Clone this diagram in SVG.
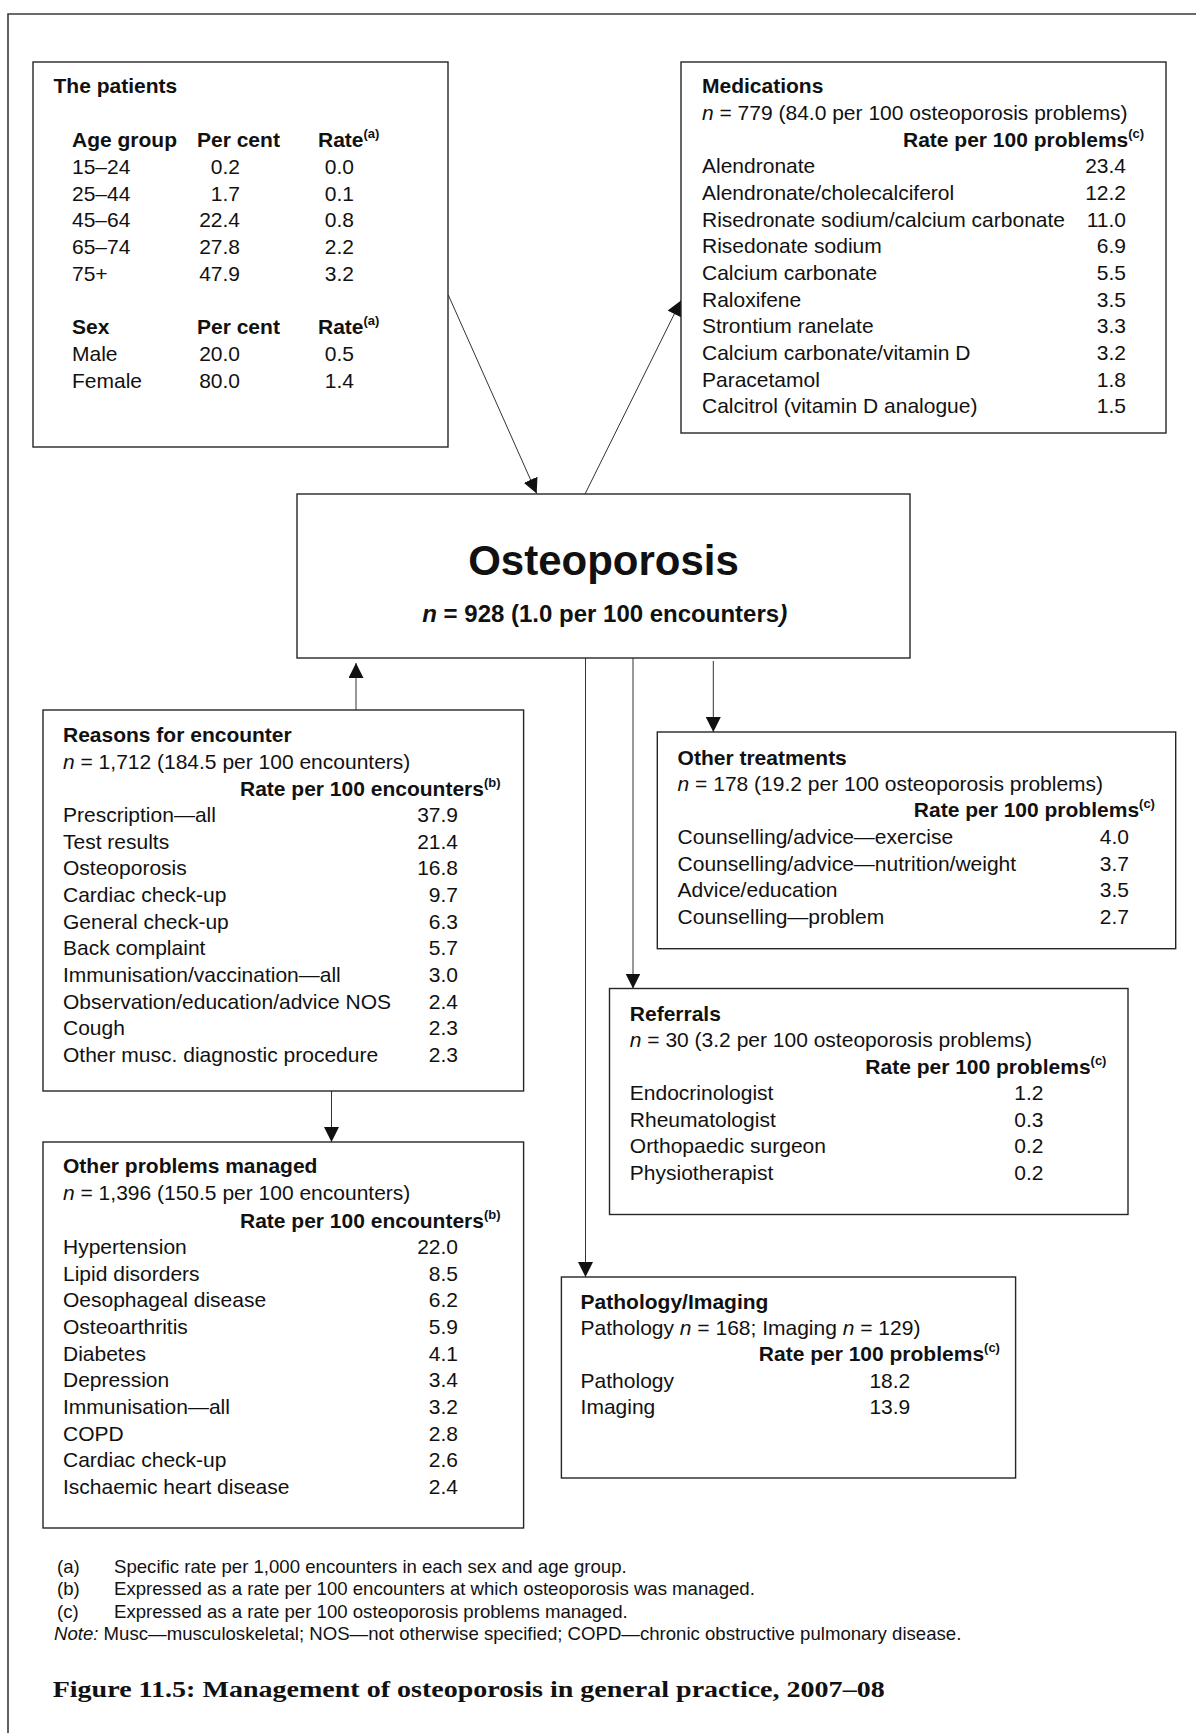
<svg xmlns="http://www.w3.org/2000/svg" width="1196" height="1733" viewBox="0 0 1196 1733">
<style>
.t{font-family:"Liberation Sans",Arial,sans-serif;font-size:21px;fill:#111}
.b{font-weight:bold}
.i{font-style:italic}
.r{text-anchor:end}
.sup{font-size:13px;font-weight:bold}
.box{fill:#fff;stroke:#262626;stroke-width:1.4}
.conn{stroke:#333;stroke-width:1;fill:none}
.big{font-size:42px;text-anchor:middle}
.sub{font-size:24px;text-anchor:middle}
.fn{font-family:"Liberation Sans",Arial,sans-serif;font-size:18.6px;fill:#111}
.cap{font-family:"Liberation Serif","Times New Roman",serif;font-size:23px;font-weight:bold;fill:#111}
</style>
<defs>
<marker id="ah" viewBox="0 0 15 15" refX="15" refY="7.5" markerWidth="15" markerHeight="15" markerUnits="userSpaceOnUse" orient="auto">
<path d="M0,0 L15,7.5 L0,15 z" fill="#111"/>
</marker>
</defs>
<rect width="1196" height="1733" fill="#fff"/>
<path d="M8,1733 L8,14 L1196,14" fill="none" stroke="#3a3a3a" stroke-width="1.6"/>

<g id="connectors">
<line class="conn" x1="448.3" y1="295" x2="536.7" y2="493.5" marker-end="url(#ah)"/>
<line class="conn" x1="585" y1="494" x2="681" y2="300.5" marker-end="url(#ah)"/>
<line class="conn" x1="356" y1="710" x2="356" y2="663" marker-end="url(#ah)"/>
<line class="conn" x1="331.5" y1="1091" x2="331.5" y2="1142" marker-end="url(#ah)"/>
<line class="conn" x1="713.3" y1="661" x2="713.3" y2="732" marker-end="url(#ah)"/>
<line class="conn" x1="633" y1="658" x2="633" y2="988.5" marker-end="url(#ah)"/>
<line class="conn" x1="585.5" y1="658" x2="585.5" y2="1277" marker-end="url(#ah)"/>
</g>

<g id="patients">
<rect class="box" x="33" y="62" width="415" height="385"/>
<text class="t b" x="53.5" y="93">The patients</text>
<text class="t b" x="72" y="147">Age group</text>
<text class="t b" x="197" y="147">Per cent</text>
<text class="t b" x="318" y="147">Rate<tspan class="sup" dy="-9">(a)</tspan></text>
<text class="t" x="72" y="174">15–24</text><text class="t r" x="240" y="174">0.2</text><text class="t r" x="354" y="174">0.0</text>
<text class="t" x="72" y="200.7">25–44</text><text class="t r" x="240" y="200.7">1.7</text><text class="t r" x="354" y="200.7">0.1</text>
<text class="t" x="72" y="227.4">45–64</text><text class="t r" x="240" y="227.4">22.4</text><text class="t r" x="354" y="227.4">0.8</text>
<text class="t" x="72" y="254">65–74</text><text class="t r" x="240" y="254">27.8</text><text class="t r" x="354" y="254">2.2</text>
<text class="t" x="72" y="280.8">75+</text><text class="t r" x="240" y="280.8">47.9</text><text class="t r" x="354" y="280.8">3.2</text>
<text class="t b" x="72" y="334">Sex</text>
<text class="t b" x="197" y="334">Per cent</text>
<text class="t b" x="318" y="334">Rate<tspan class="sup" dy="-9">(a)</tspan></text>
<text class="t" x="72" y="361">Male</text><text class="t r" x="240" y="361">20.0</text><text class="t r" x="354" y="361">0.5</text>
<text class="t" x="72" y="387.7">Female</text><text class="t r" x="240" y="387.7">80.0</text><text class="t r" x="354" y="387.7">1.4</text>
</g>

<g id="medications">
<rect class="box" x="681" y="62" width="485" height="371"/>
<text class="t b" x="702" y="93">Medications</text>
<text class="t" x="702" y="120"><tspan class="i">n</tspan> = 779 (84.0 per 100 osteoporosis problems)</text>
<text class="t b" x="903" y="147">Rate per 100 problems<tspan class="sup" dy="-9">(c)</tspan></text>
<text class="t" x="702" y="173.4">Alendronate</text><text class="t r" x="1126" y="173.4">23.4</text>
<text class="t" x="702" y="200">Alendronate/cholecalciferol</text><text class="t r" x="1126" y="200">12.2</text>
<text class="t" x="702" y="226.7">Risedronate sodium/calcium carbonate</text><text class="t r" x="1126" y="226.7">11.0</text>
<text class="t" x="702" y="253.4">Risedonate sodium</text><text class="t r" x="1126" y="253.4">6.9</text>
<text class="t" x="702" y="280">Calcium carbonate</text><text class="t r" x="1126" y="280">5.5</text>
<text class="t" x="702" y="306.7">Raloxifene</text><text class="t r" x="1126" y="306.7">3.5</text>
<text class="t" x="702" y="333.4">Strontium ranelate</text><text class="t r" x="1126" y="333.4">3.3</text>
<text class="t" x="702" y="360">Calcium carbonate/vitamin D</text><text class="t r" x="1126" y="360">3.2</text>
<text class="t" x="702" y="386.7">Paracetamol</text><text class="t r" x="1126" y="386.7">1.8</text>
<text class="t" x="702" y="413.4">Calcitrol (vitamin D analogue)</text><text class="t r" x="1126" y="413.4">1.5</text>
</g>

<g id="osteoporosis">
<rect class="box" x="297" y="494" width="613" height="164"/>
<text class="t b big" x="603.5" y="575">Osteoporosis</text>
<text class="t b sub" x="604.7" y="622"><tspan class="i">n</tspan> = 928 (1.0 per 100 encounters<tspan class="i">)</tspan></text>
</g>

<g id="reasons">
<rect class="box" x="43" y="710" width="480.6" height="381"/>
<text class="t b" x="63" y="742">Reasons for encounter</text>
<text class="t" x="63" y="769"><tspan class="i">n</tspan> = 1,712 (184.5 per 100 encounters)</text>
<text class="t b" x="240" y="796">Rate per 100 encounters<tspan class="sup" dy="-9">(b)</tspan></text>
<text class="t" x="63" y="822">Prescription—all</text><text class="t r" x="458" y="822">37.9</text>
<text class="t" x="63" y="848.7">Test results</text><text class="t r" x="458" y="848.7">21.4</text>
<text class="t" x="63" y="875.3">Osteoporosis</text><text class="t r" x="458" y="875.3">16.8</text>
<text class="t" x="63" y="902">Cardiac check-up</text><text class="t r" x="458" y="902">9.7</text>
<text class="t" x="63" y="928.7">General check-up</text><text class="t r" x="458" y="928.7">6.3</text>
<text class="t" x="63" y="955.3">Back complaint</text><text class="t r" x="458" y="955.3">5.7</text>
<text class="t" x="63" y="982">Immunisation/vaccination—all</text><text class="t r" x="458" y="982">3.0</text>
<text class="t" x="63" y="1008.7">Observation/education/advice NOS</text><text class="t r" x="458" y="1008.7">2.4</text>
<text class="t" x="63" y="1035.3">Cough</text><text class="t r" x="458" y="1035.3">2.3</text>
<text class="t" x="63" y="1062">Other musc. diagnostic procedure</text><text class="t r" x="458" y="1062">2.3</text>
</g>

<g id="other-problems">
<rect class="box" x="43" y="1142" width="480.6" height="386"/>
<text class="t b" x="63" y="1173">Other problems managed</text>
<text class="t" x="63" y="1200"><tspan class="i">n</tspan> = 1,396 (150.5 per 100 encounters)</text>
<text class="t b" x="240" y="1227.5">Rate per 100 encounters<tspan class="sup" dy="-9">(b)</tspan></text>
<text class="t" x="63" y="1254">Hypertension</text><text class="t r" x="458" y="1254">22.0</text>
<text class="t" x="63" y="1280.7">Lipid disorders</text><text class="t r" x="458" y="1280.7">8.5</text>
<text class="t" x="63" y="1307.3">Oesophageal disease</text><text class="t r" x="458" y="1307.3">6.2</text>
<text class="t" x="63" y="1334">Osteoarthritis</text><text class="t r" x="458" y="1334">5.9</text>
<text class="t" x="63" y="1360.7">Diabetes</text><text class="t r" x="458" y="1360.7">4.1</text>
<text class="t" x="63" y="1387.3">Depression</text><text class="t r" x="458" y="1387.3">3.4</text>
<text class="t" x="63" y="1414">Immunisation—all</text><text class="t r" x="458" y="1414">3.2</text>
<text class="t" x="63" y="1440.7">COPD</text><text class="t r" x="458" y="1440.7">2.8</text>
<text class="t" x="63" y="1467.3">Cardiac check-up</text><text class="t r" x="458" y="1467.3">2.6</text>
<text class="t" x="63" y="1494">Ischaemic heart disease</text><text class="t r" x="458" y="1494">2.4</text>
</g>

<g id="other-treatments">
<rect class="box" x="657.3" y="732" width="518.4" height="216.7"/>
<text class="t b" x="677.6" y="764.5">Other treatments</text>
<text class="t" x="677.6" y="790.5"><tspan class="i">n</tspan> = 178 (19.2 per 100 osteoporosis problems)</text>
<text class="t b" x="913.8" y="817">Rate per 100 problems<tspan class="sup" dy="-9">(c)</tspan></text>
<text class="t" x="677.6" y="844">Counselling/advice—exercise</text><text class="t r" x="1129" y="844">4.0</text>
<text class="t" x="677.6" y="870.5">Counselling/advice—nutrition/weight</text><text class="t r" x="1129" y="870.5">3.7</text>
<text class="t" x="677.6" y="897">Advice/education</text><text class="t r" x="1129" y="897">3.5</text>
<text class="t" x="677.6" y="923.5">Counselling—problem</text><text class="t r" x="1129" y="923.5">2.7</text>
</g>

<g id="referrals">
<rect class="box" x="609.5" y="988.5" width="518.5" height="226"/>
<text class="t b" x="629.8" y="1020.5">Referrals</text>
<text class="t" x="629.8" y="1047"><tspan class="i">n</tspan> = 30 (3.2 per 100 osteoporosis problems)</text>
<text class="t b" x="865.3" y="1073.5">Rate per 100 problems<tspan class="sup" dy="-9">(c)</tspan></text>
<text class="t" x="629.8" y="1100">Endocrinologist</text><text class="t r" x="1043.5" y="1100">1.2</text>
<text class="t" x="629.8" y="1126.7">Rheumatologist</text><text class="t r" x="1043.5" y="1126.7">0.3</text>
<text class="t" x="629.8" y="1153.3">Orthopaedic surgeon</text><text class="t r" x="1043.5" y="1153.3">0.2</text>
<text class="t" x="629.8" y="1180">Physiotherapist</text><text class="t r" x="1043.5" y="1180">0.2</text>
</g>

<g id="pathology-imaging">
<rect class="box" x="561.4" y="1277" width="454.2" height="201"/>
<text class="t b" x="580.6" y="1308.7">Pathology/Imaging</text>
<text class="t" x="580.6" y="1334.5">Pathology <tspan class="i">n</tspan> = 168; Imaging <tspan class="i">n</tspan> = 129)</text>
<text class="t b" x="758.8" y="1360.5">Rate per 100 problems<tspan class="sup" dy="-9">(c)</tspan></text>
<text class="t" x="580.6" y="1387.5">Pathology</text><text class="t r" x="910.3" y="1387.5">18.2</text>
<text class="t" x="580.6" y="1414">Imaging</text><text class="t r" x="910.3" y="1414">13.9</text>
</g>

<g id="footnotes">
<text class="fn" x="57" y="1572.7">(a)</text><text class="fn" x="114" y="1572.7">Specific rate per 1,000 encounters in each sex and age group.</text>
<text class="fn" x="57" y="1595.2">(b)</text><text class="fn" x="114" y="1595.2">Expressed as a rate per 100 encounters at which osteoporosis was managed.</text>
<text class="fn" x="57" y="1617.7">(c)</text><text class="fn" x="114" y="1617.7">Expressed as a rate per 100 osteoporosis problems managed.</text>
<text class="fn" x="54" y="1640.2"><tspan font-style="italic">Note:</tspan> Musc—musculoskeletal; NOS—not otherwise specified; COPD—chronic obstructive pulmonary disease.</text>
<text class="cap" x="52.7" y="1697" textLength="832" lengthAdjust="spacingAndGlyphs">Figure 11.5: Management of osteoporosis in general practice, 2007–08</text>
</g>
</svg>
